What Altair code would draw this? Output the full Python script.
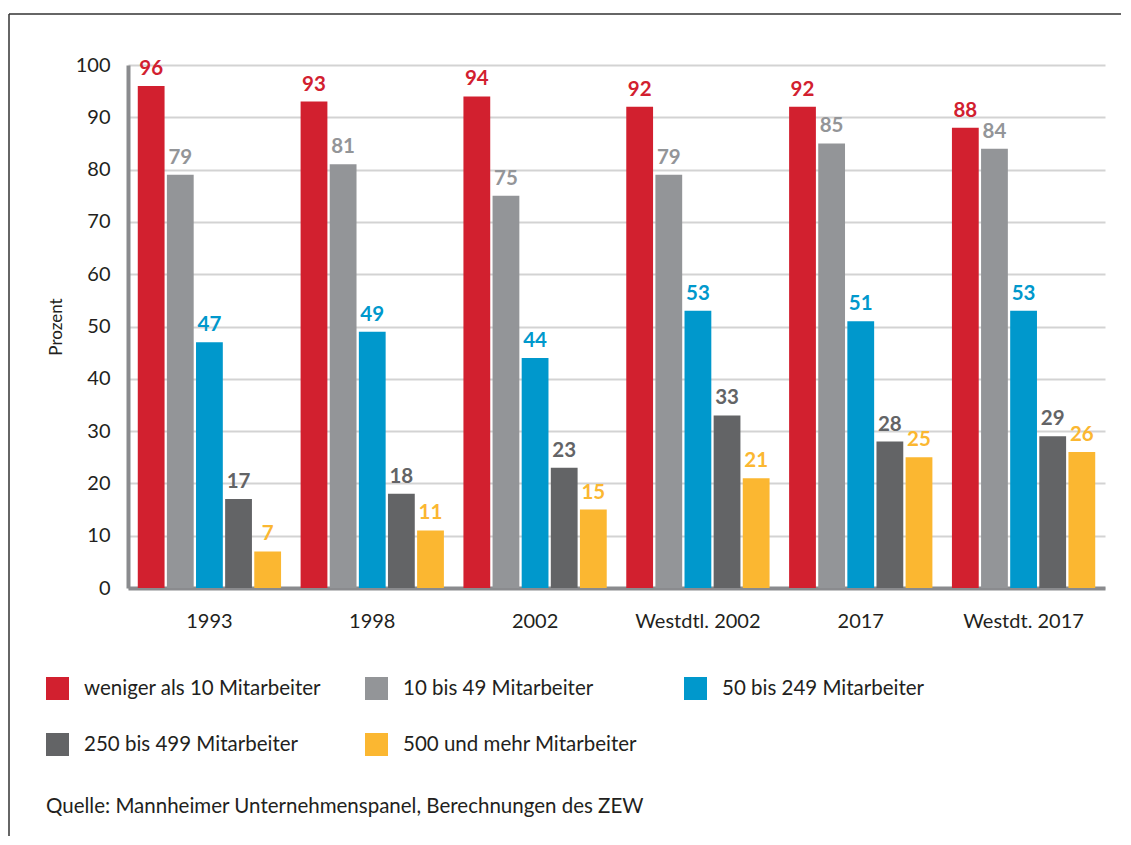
import altair as alt
import pandas as pd

categories = ["1993", "1998", "2002", "Westdtl. 2002", "2017", "Westdt. 2017"]
series_names = [
    "weniger als 10 Mitarbeiter",
    "10 bis 49 Mitarbeiter",
    "50 bis 249 Mitarbeiter",
    "250 bis 499 Mitarbeiter",
    "500 und mehr Mitarbeiter",
]
s_lt10 = [96, 93, 94, 92, 92, 88]
s_10_49 = [79, 81, 75, 79, 85, 84]
s_50_249 = [47, 49, 44, 53, 51, 53]
s_250_499 = [17, 18, 23, 33, 28, 29]
s_500 = [7, 11, 15, 21, 25, 26]
colors = ["#d2202f", "#939598", "#0098cc", "#636466", "#fbb731"]
source_text = "Quelle: Mannheimer Unternehmenspanel, Berechnungen des ZEW"

rows = []
for name, vals in zip(series_names, [s_lt10, s_10_49, s_50_249, s_250_499, s_500]):
    for c, v in zip(categories, vals):
        rows.append({"Jahr": c, "Gruppe": name, "Wert": v})
df = pd.DataFrame(rows)

FONT = "Lato"
TXT = "#231f20"

x_enc = alt.X("Jahr:N", sort=categories, title=None,
              scale=alt.Scale(paddingInner=0.12, paddingOuter=0.06),
              axis=alt.Axis(labelAngle=0, labelFontSize=20, labelColor=TXT,
                            labelPadding=23, ticks=False, domainColor="#8a8b8e",
                            domainWidth=4, labelFont=FONT))
xo_enc = alt.XOffset("Gruppe:N", sort=series_names,
                     scale=alt.Scale(paddingInner=0.08, paddingOuter=0))
y_enc = alt.Y("Wert:Q", scale=alt.Scale(domain=[0, 100]), title="Prozent",
              axis=alt.Axis(values=list(range(0, 101, 10)), labelFontSize=20,
                            labelColor=TXT, labelPadding=18, ticks=False,
                            domainColor="#8a8b8e", domainWidth=4,
                            gridColor="#d3d3d3", gridWidth=2,
                            titleFontSize=17, titleFontWeight="normal",
                            titleColor=TXT, titlePadding=10,
                            labelFont=FONT, titleFont=FONT))
color_enc = alt.Color("Gruppe:N", sort=series_names,
                      scale=alt.Scale(domain=series_names, range=colors),
                      legend=alt.Legend(title=None, orient="none", legendX=-82,
                                        legendY=612, direction="horizontal",
                                        columns=3, gridAlign="all",
                                        symbolType="square", symbolSize=529,
                                        symbolStrokeWidth=0, symbolOpacity=1,
                                        labelFontSize=20.5, labelColor=TXT,
                                        labelFont=FONT, labelOffset=15,
                                        columnPadding=44, rowPadding=33,
                                        labelLimit=400, padding=0))

bars = alt.Chart(df).mark_bar(opacity=1).encode(
    x=x_enc, xOffset=xo_enc, y=y_enc, color=color_enc)

labels = alt.Chart(df).mark_text(
    fontWeight="bold", fontSize=20.5, dy=-11, baseline="alphabetic", font=FONT
).encode(
    x=alt.X("Jahr:N", sort=categories),
    xOffset=alt.XOffset("Gruppe:N", sort=series_names),
    y="Wert:Q",
    text="Wert:Q",
    color=alt.Color("Gruppe:N", sort=series_names, legend=None),
)

frame_df = pd.DataFrame({"a": [0]})
top_line = alt.Chart(frame_df).mark_rule(color="#333333", strokeWidth=1.5).encode(
    x=alt.value(-119), x2=alt.value(1010), y=alt.value(-51))
left_line = alt.Chart(frame_df).mark_rule(color="#333333", strokeWidth=1.5).encode(
    x=alt.value(-119), y=alt.value(-51), y2=alt.value(800))
source = alt.Chart(frame_df).mark_text(
    align="left", baseline="middle", fontSize=20.5, font=FONT, color=TXT
).encode(x=alt.value(-82), y=alt.value(742), text=alt.value(source_text))

chart = alt.layer(bars, labels, top_line, left_line, source).properties(
    width=977, height=523,
    autosize=alt.AutoSizeParams(type="none"),
    padding={"left": 120, "top": 57, "right": 16, "bottom": 248},
).configure_view(stroke=None)

chart.save("out.html", embed_options={"renderer": "svg", "actions": False})
